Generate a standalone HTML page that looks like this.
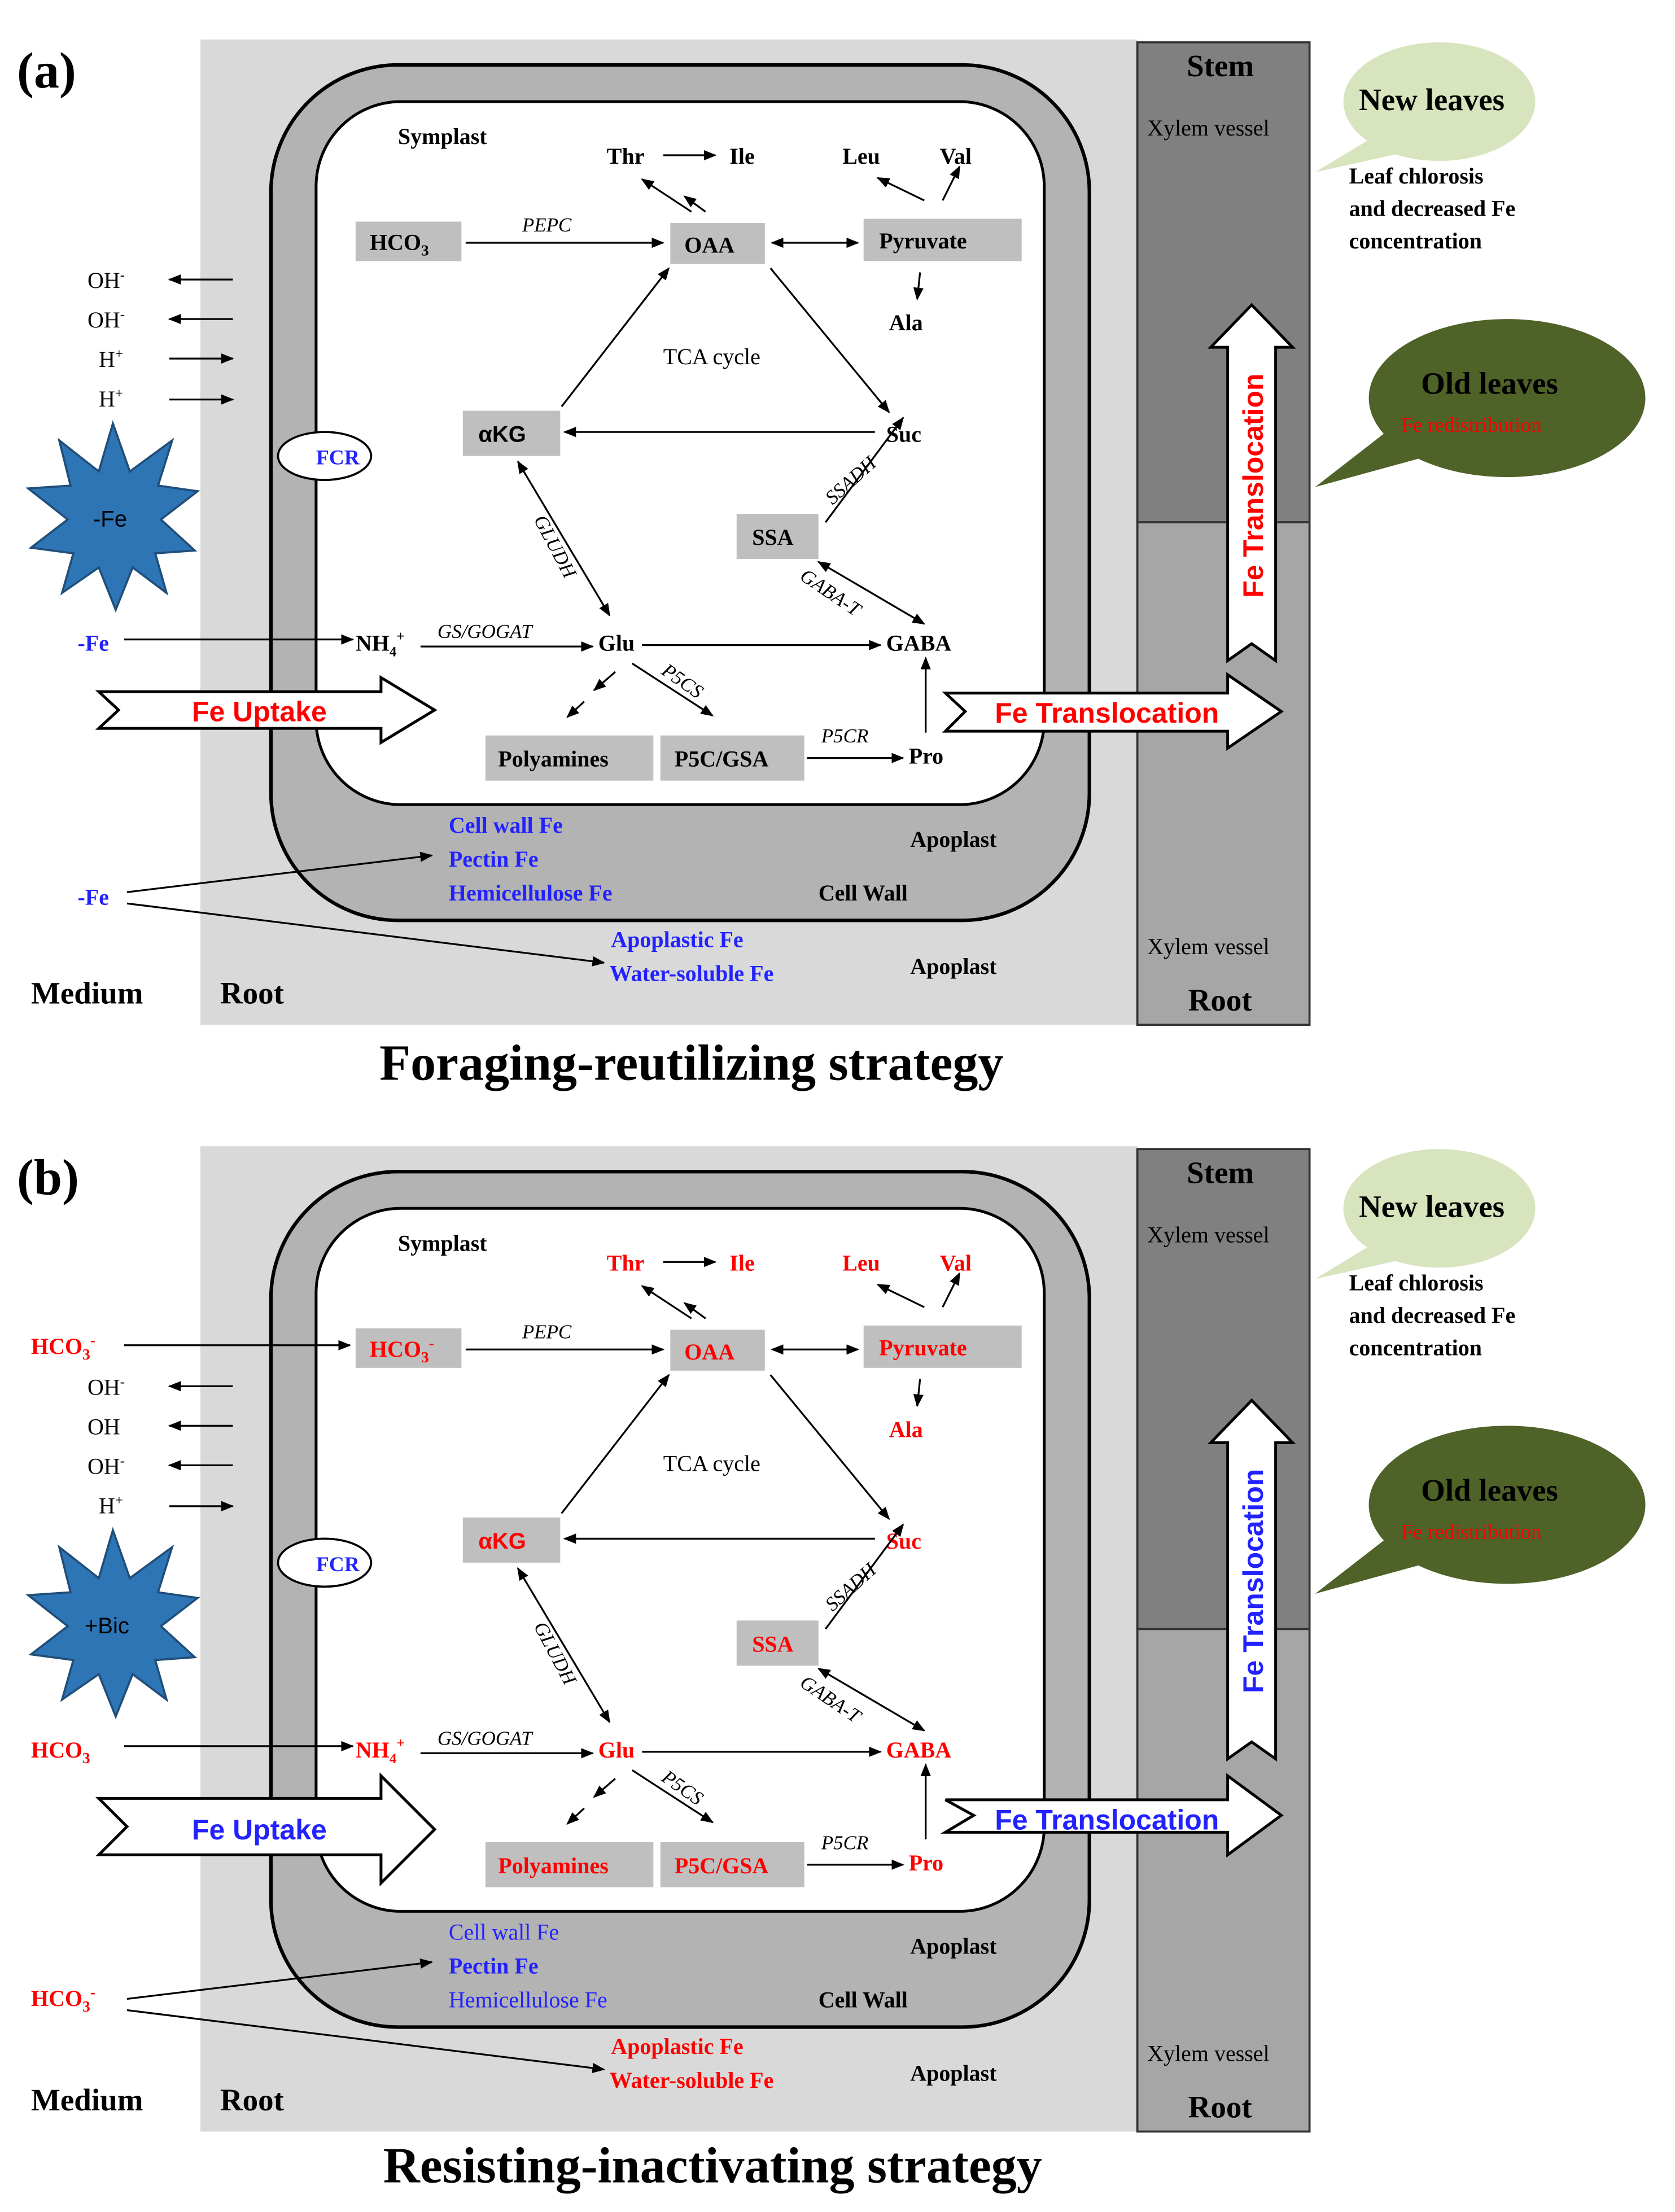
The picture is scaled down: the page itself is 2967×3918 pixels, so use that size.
<!DOCTYPE html>
<html><head><meta charset="utf-8"><style>
html,body{margin:0;padding:0;background:#fff}
svg{display:block}
text{font-family:"Liberation Serif",serif;font-weight:bold;font-size:16px;fill:#000}
.it{font-style:italic;font-weight:normal;font-size:14px}
.r{fill:#f00}.b{fill:#22f}.n{font-weight:normal}
.sans{font-family:"Liberation Sans",sans-serif}
line,path.a{stroke:#000;stroke-width:1.3;fill:none}
</style></head><body>
<svg width="2967" height="3918" viewBox="0 0 1187 1567" preserveAspectRatio="none" xmlns="http://www.w3.org/2000/svg">
<defs>
<marker id="m" viewBox="0 0 10 10" refX="9" refY="5" markerWidth="7" markerHeight="7" orient="auto-start-reverse"><path d="M0,1 L10,5 L0,9 z" fill="#000"/></marker>
</defs>

<!-- PANEL A -->
<g id="pa">
<rect x="142" y="28" width="664" height="698" fill="#d9d9d9"/>
<rect x="806" y="30" width="122" height="340" fill="#808080" stroke="#333" stroke-width="1.5"/>
<rect x="806" y="370" width="122" height="356" fill="#a6a6a6" stroke="#333" stroke-width="1.5"/>
<rect x="192" y="46" width="580" height="606" rx="90" fill="#b3b3b3" stroke="#000" stroke-width="2.5"/>
<rect x="224" y="72" width="516" height="498" rx="60" fill="#fff" stroke="#000" stroke-width="2"/>
<text x="12" y="62" style="font-size:36px">(a)</text>
<text x="282" y="102">Symplast</text>
<text x="430" y="116">Thr</text><line x1="470" y1="110" x2="507" y2="110" marker-end="url(#m)"/><text x="517" y="116">Ile</text>
<text x="597" y="116">Leu</text><text x="666" y="116">Val</text>
<line x1="490" y1="150" x2="455" y2="127" marker-end="url(#m)"/><line x1="500" y1="150" x2="485" y2="139" marker-end="url(#m)"/>
<line x1="655" y1="142" x2="622" y2="126" marker-end="url(#m)"/><line x1="668" y1="142" x2="680" y2="118" marker-end="url(#m)"/>
<rect x="252" y="157" width="75" height="28" fill="#bfbfbf"/><text x="262" y="177">HCO<tspan style="font-size:11px" dy="4">3</tspan></text>
<text x="370" y="164" class="it">PEPC</text><line x1="330" y1="172" x2="470" y2="172" marker-end="url(#m)"/>
<rect x="475" y="158" width="67" height="29" fill="#bfbfbf"/><text x="485" y="179">OAA</text>
<line x1="547" y1="172" x2="608" y2="172" marker-start="url(#m)" marker-end="url(#m)"/>
<rect x="612" y="155" width="112" height="30" fill="#bfbfbf"/><text x="623" y="176">Pyruvate</text>
<line x1="652" y1="193" x2="650" y2="212" marker-end="url(#m)"/><text x="630" y="234">Ala</text>
<text x="470" y="258" class="n">TCA cycle</text>
<rect x="328" y="291" width="69" height="32" fill="#bfbfbf"/><text x="339" y="313" class="sans">αKG</text>
<text x="628" y="313">Suc</text><line x1="620" y1="306" x2="400" y2="306" marker-end="url(#m)"/>
<line x1="398" y1="288" x2="474" y2="190" marker-end="url(#m)"/><line x1="546" y1="190" x2="630" y2="292" marker-end="url(#m)"/>
<ellipse cx="230" cy="323" rx="33" ry="17" fill="#fff" stroke="#000" stroke-width="1.5"/><text x="224" y="329" class="b" style="font-size:15px">FCR</text>
<rect x="522" y="364" width="58" height="32" fill="#bfbfbf"/><text x="533" y="386">SSA</text>
<text class="it" transform="translate(590,358) rotate(-42)">SSADH</text><line x1="585" y1="370" x2="640" y2="296" marker-end="url(#m)"/>
<text class="it" transform="translate(378,368) rotate(62)">GLUDH</text><line x1="367" y1="327" x2="432" y2="436" marker-start="url(#m)" marker-end="url(#m)"/>
<text class="it" transform="translate(566,410) rotate(34)">GABA-T</text><line x1="580" y1="398" x2="655" y2="442" marker-start="url(#m)" marker-end="url(#m)"/>
<text x="55" y="461" class="b">-Fe</text><line x1="88" y1="453" x2="250" y2="453" marker-end="url(#m)"/>
<text x="252" y="461">NH<tspan style="font-size:10px" dy="4">4</tspan><tspan style="font-size:10px" dy="-11">+</tspan></text>
<text x="310" y="452" class="it">GS/GOGAT</text><line x1="298" y1="458" x2="420" y2="458" marker-end="url(#m)"/>
<text x="424" y="461">Glu</text><line x1="455" y1="457" x2="624" y2="457" marker-end="url(#m)"/><text x="628" y="461">GABA</text>
<text class="it" transform="translate(468,477) rotate(35)">P5CS</text><line x1="448" y1="470" x2="505" y2="507" marker-end="url(#m)"/>
<line x1="436" y1="476" x2="421" y2="489" marker-end="url(#m)"/><line x1="414" y1="497" x2="402" y2="508" marker-end="url(#m)"/>
<rect x="344" y="521" width="119" height="32" fill="#bfbfbf"/><text x="353" y="543">Polyamines</text>
<rect x="468" y="521" width="102" height="32" fill="#bfbfbf"/><text x="478" y="543">P5C/GSA</text>
<text x="582" y="526" class="it">P5CR</text><line x1="572" y1="537" x2="640" y2="537" marker-end="url(#m)"/><text x="644" y="541">Pro</text>
<line x1="656" y1="519" x2="656" y2="466" marker-end="url(#m)"/>
<path d="M70,490 H270 V480 L308,503 L270,526 V516 H70 L84,503 Z" fill="#fff" stroke="#000" stroke-width="2"/>
<text x="136" y="511" class="sans r" style="font-size:20px">Fe Uptake</text>
<path d="M670,491 H870 V478 L908,504 L870,530 V518 H670 L684,504 Z" fill="#fff" stroke="#000" stroke-width="2"/>
<text x="705" y="512" class="sans r" style="font-size:20px">Fe Translocation</text>
<path d="M870,468 V246 H858 L887,216 L916,246 H904 V468 L887,456 Z" fill="#fff" stroke="#000" stroke-width="2"/>
<text class="sans r" style="font-size:20px" text-anchor="middle" transform="translate(895,344) rotate(-90)">Fe Translocation</text>
<text x="841" y="54" style="font-size:22px">Stem</text>
<text x="813" y="96" class="n">Xylem vessel</text><text x="813" y="676" class="n">Xylem vessel</text>
<text x="842" y="716" style="font-size:22px">Root</text>
<ellipse cx="1020" cy="72" rx="68" ry="42" fill="#d7e4bd"/><polygon points="932,122 975,96 995,108" fill="#d7e4bd"/>
<text x="963" y="78" style="font-size:22px">New leaves</text>
<text x="956" y="130">Leaf chlorosis</text><text x="956" y="153">and decreased Fe</text><text x="956" y="176">concentration</text>
<ellipse cx="1068" cy="282" rx="98" ry="56" fill="#4f6228"/><polygon points="932,345 990,300 1005,325" fill="#4f6228"/>
<text x="1007" y="279" style="font-size:22px">Old leaves</text>
<text x="993" y="306" class="r n" style="font-size:15px">Fe redistribution</text>
<text x="62" y="204" class="n">OH<tspan dy="-6" style="font-size:10px">-</tspan></text><line x1="165" y1="198" x2="120" y2="198" marker-end="url(#m)"/>
<text x="62" y="232" class="n">OH<tspan dy="-6" style="font-size:10px">-</tspan></text><line x1="165" y1="226" x2="120" y2="226" marker-end="url(#m)"/>
<text x="70" y="260" class="n">H<tspan dy="-6" style="font-size:10px">+</tspan></text><line x1="120" y1="254" x2="165" y2="254" marker-end="url(#m)"/>
<text x="70" y="288" class="n">H<tspan dy="-6" style="font-size:10px">+</tspan></text><line x1="120" y1="283" x2="165" y2="283" marker-end="url(#m)"/>
<path d="M80,300 L92,334 L122,312 L112,344 L140,348 L114,368 L138,390 L110,392 L118,420 L94,402 L82,432 L70,402 L44,420 L52,392 L22,388 L48,368 L20,346 L50,344 L42,312 L70,334 Z" fill="#2e75b6" stroke="#1f4e79" stroke-width="1.5"/>
<text x="66" y="373" class="sans n">-Fe</text>
<text x="318" y="590" class="b">Cell wall Fe</text><text x="318" y="614" class="b">Pectin Fe</text><text x="318" y="638" class="b">Hemicellulose Fe</text>
<text x="645" y="600">Apoplast</text><text x="580" y="638">Cell Wall</text><text x="645" y="690">Apoplast</text>
<text x="55" y="641" class="b">-Fe</text>
<line x1="90" y1="632" x2="306" y2="606" marker-end="url(#m)"/><line x1="90" y1="640" x2="428" y2="682" marker-end="url(#m)"/>
<text x="433" y="671" class="b">Apoplastic Fe</text><text x="432" y="695" class="b">Water-soluble Fe</text>
<text x="22" y="711" style="font-size:22px">Medium</text><text x="156" y="711" style="font-size:22px">Root</text>
<text x="490" y="765" text-anchor="middle" style="font-size:36px">Foraging-reutilizing strategy</text>
</g>

<!-- PANEL B -->
<g transform="translate(0,784)">
<rect x="142" y="28" width="664" height="698" fill="#d9d9d9"/>
<rect x="806" y="30" width="122" height="340" fill="#808080" stroke="#333" stroke-width="1.5"/>
<rect x="806" y="370" width="122" height="356" fill="#a6a6a6" stroke="#333" stroke-width="1.5"/>
<rect x="192" y="46" width="580" height="606" rx="90" fill="#b3b3b3" stroke="#000" stroke-width="2.5"/>
<rect x="224" y="72" width="516" height="498" rx="60" fill="#fff" stroke="#000" stroke-width="2"/>
<text x="12" y="62" style="font-size:36px">(b)</text>
<text x="282" y="102">Symplast</text>
<text x="430" y="116" class="r">Thr</text><line x1="470" y1="110" x2="507" y2="110" marker-end="url(#m)"/><text x="517" y="116" class="r">Ile</text>
<text x="597" y="116" class="r">Leu</text><text x="666" y="116" class="r">Val</text>
<line x1="490" y1="150" x2="455" y2="127" marker-end="url(#m)"/><line x1="500" y1="150" x2="485" y2="139" marker-end="url(#m)"/>
<line x1="655" y1="142" x2="622" y2="126" marker-end="url(#m)"/><line x1="668" y1="142" x2="680" y2="118" marker-end="url(#m)"/>
<text x="22" y="175" class="r">HCO<tspan style="font-size:11px" dy="4">3</tspan><tspan style="font-size:11px" dy="-10">-</tspan></text>
<line x1="88" y1="169" x2="248" y2="169" marker-end="url(#m)"/>
<rect x="252" y="157" width="75" height="28" fill="#bfbfbf"/><text x="262" y="177" class="r">HCO<tspan style="font-size:11px" dy="4">3</tspan><tspan style="font-size:11px" dy="-10">-</tspan></text>
<text x="370" y="164" class="it">PEPC</text><line x1="330" y1="172" x2="470" y2="172" marker-end="url(#m)"/>
<rect x="475" y="158" width="67" height="29" fill="#bfbfbf"/><text x="485" y="179" class="r">OAA</text>
<line x1="547" y1="172" x2="608" y2="172" marker-start="url(#m)" marker-end="url(#m)"/>
<rect x="612" y="155" width="112" height="30" fill="#bfbfbf"/><text x="623" y="176" class="r">Pyruvate</text>
<line x1="652" y1="193" x2="650" y2="212" marker-end="url(#m)"/><text x="630" y="234" class="r">Ala</text>
<text x="470" y="258" class="n">TCA cycle</text>
<rect x="328" y="291" width="69" height="32" fill="#bfbfbf"/><text x="339" y="313" class="sans r">αKG</text>
<text x="628" y="313" class="r">Suc</text><line x1="620" y1="306" x2="400" y2="306" marker-end="url(#m)"/>
<line x1="398" y1="288" x2="474" y2="190" marker-end="url(#m)"/><line x1="546" y1="190" x2="630" y2="292" marker-end="url(#m)"/>
<ellipse cx="230" cy="323" rx="33" ry="17" fill="#fff" stroke="#000" stroke-width="1.5"/><text x="224" y="329" class="b" style="font-size:15px">FCR</text>
<rect x="522" y="364" width="58" height="32" fill="#bfbfbf"/><text x="533" y="386" class="r">SSA</text>
<text class="it" transform="translate(590,358) rotate(-42)">SSADH</text><line x1="585" y1="370" x2="640" y2="296" marker-end="url(#m)"/>
<text class="it" transform="translate(378,368) rotate(62)">GLUDH</text><line x1="367" y1="327" x2="432" y2="436" marker-start="url(#m)" marker-end="url(#m)"/>
<text class="it" transform="translate(566,410) rotate(34)">GABA-T</text><line x1="580" y1="398" x2="655" y2="442" marker-start="url(#m)" marker-end="url(#m)"/>
<text x="22" y="461" class="r">HCO<tspan style="font-size:11px" dy="4">3</tspan></text><line x1="88" y1="453" x2="250" y2="453" marker-end="url(#m)"/>
<text x="252" y="461" class="r">NH<tspan style="font-size:10px" dy="4">4</tspan><tspan style="font-size:10px" dy="-11">+</tspan></text>
<text x="310" y="452" class="it">GS/GOGAT</text><line x1="298" y1="458" x2="420" y2="458" marker-end="url(#m)"/>
<text x="424" y="461" class="r">Glu</text><line x1="455" y1="457" x2="624" y2="457" marker-end="url(#m)"/><text x="628" y="461" class="r">GABA</text>
<text class="it" transform="translate(468,477) rotate(35)">P5CS</text><line x1="448" y1="470" x2="505" y2="507" marker-end="url(#m)"/>
<line x1="436" y1="476" x2="421" y2="489" marker-end="url(#m)"/><line x1="414" y1="497" x2="402" y2="508" marker-end="url(#m)"/>
<rect x="344" y="521" width="119" height="32" fill="#bfbfbf"/><text x="353" y="543" class="r">Polyamines</text>
<rect x="468" y="521" width="102" height="32" fill="#bfbfbf"/><text x="478" y="543" class="r">P5C/GSA</text>
<text x="582" y="526" class="it">P5CR</text><line x1="572" y1="537" x2="640" y2="537" marker-end="url(#m)"/><text x="644" y="541" class="r">Pro</text>
<line x1="656" y1="519" x2="656" y2="466" marker-end="url(#m)"/>
<path d="M70,490 H270 V474 L308,512 L270,550 V530 H70 L90,510 Z" fill="#fff" stroke="#000" stroke-width="2"/>
<text x="136" y="519" class="sans b" style="font-size:20px">Fe Uptake</text>
<path d="M670,491 H870 V474 L908,502 L870,530 V514 H670 L690,502 Z" fill="#fff" stroke="#000" stroke-width="2"/>
<text x="705" y="512" class="sans b" style="font-size:20px">Fe Translocation</text>
<path d="M870,462 V238 H858 L887,208 L916,238 H904 V462 L887,450 Z" fill="#fff" stroke="#000" stroke-width="2"/>
<text class="sans b" style="font-size:20px" text-anchor="middle" transform="translate(895,336) rotate(-90)">Fe Translocation</text>
<text x="841" y="54" style="font-size:22px">Stem</text>
<text x="813" y="96" class="n">Xylem vessel</text><text x="813" y="676" class="n">Xylem vessel</text>
<text x="842" y="716" style="font-size:22px">Root</text>
<ellipse cx="1020" cy="72" rx="68" ry="42" fill="#d7e4bd"/><polygon points="932,122 975,96 995,108" fill="#d7e4bd"/>
<text x="963" y="78" style="font-size:22px">New leaves</text>
<text x="956" y="130">Leaf chlorosis</text><text x="956" y="153">and decreased Fe</text><text x="956" y="176">concentration</text>
<ellipse cx="1068" cy="282" rx="98" ry="56" fill="#4f6228"/><polygon points="932,345 990,300 1005,325" fill="#4f6228"/>
<text x="1007" y="279" style="font-size:22px">Old leaves</text>
<text x="993" y="306" class="r n" style="font-size:15px">Fe redistribution</text>
<text x="62" y="204" class="n">OH<tspan dy="-6" style="font-size:10px">-</tspan></text><line x1="165" y1="198" x2="120" y2="198" marker-end="url(#m)"/>
<text x="62" y="232" class="n">OH</text><line x1="165" y1="226" x2="120" y2="226" marker-end="url(#m)"/>
<text x="62" y="260" class="n">OH<tspan dy="-6" style="font-size:10px">-</tspan></text><line x1="165" y1="254" x2="120" y2="254" marker-end="url(#m)"/>
<text x="70" y="288" class="n">H<tspan dy="-6" style="font-size:10px">+</tspan></text><line x1="120" y1="283" x2="165" y2="283" marker-end="url(#m)"/>
<path d="M80,300 L92,334 L122,312 L112,344 L140,348 L114,368 L138,390 L110,392 L118,420 L94,402 L82,432 L70,402 L44,420 L52,392 L22,388 L48,368 L20,346 L50,344 L42,312 L70,334 Z" fill="#2e75b6" stroke="#1f4e79" stroke-width="1.5"/>
<text x="60" y="373" class="sans n">+Bic</text>
<text x="318" y="590" class="b n">Cell wall Fe</text><text x="318" y="614" class="b">Pectin Fe</text><text x="318" y="638" class="b n">Hemicellulose Fe</text>
<text x="645" y="600">Apoplast</text><text x="580" y="638">Cell Wall</text><text x="645" y="690">Apoplast</text>
<text x="22" y="637" class="r">HCO<tspan style="font-size:11px" dy="4">3</tspan><tspan style="font-size:11px" dy="-10">-</tspan></text>
<line x1="90" y1="632" x2="306" y2="606" marker-end="url(#m)"/><line x1="90" y1="640" x2="428" y2="682" marker-end="url(#m)"/>
<text x="433" y="671" class="r">Apoplastic Fe</text><text x="432" y="695" class="r">Water-soluble Fe</text>
<text x="22" y="711" style="font-size:22px">Medium</text><text x="156" y="711" style="font-size:22px">Root</text>
<text x="505" y="762" text-anchor="middle" style="font-size:36px">Resisting-inactivating strategy</text>
</g>
</svg>
</body></html>
